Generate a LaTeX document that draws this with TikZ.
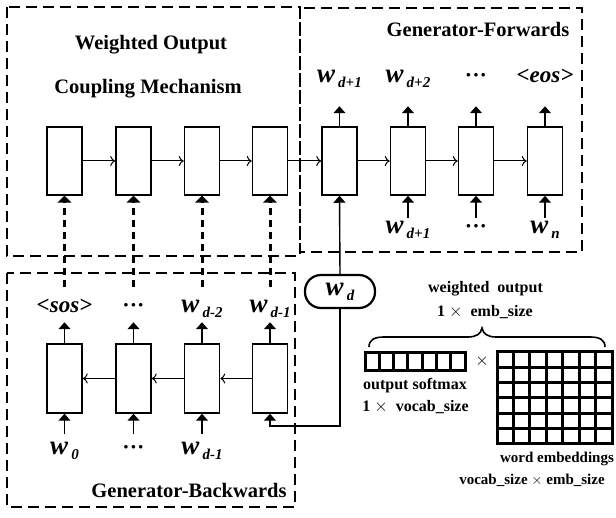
\documentclass[tikz,border=0pt]{standalone}
\usepackage{fontspec}
\setmainfont{Liberation Serif}
\usetikzlibrary{arrows.meta}
\newcommand{\wlab}[1]{{\fontsize{27}{27}\selectfont\bfseries\itshape w}\hspace{3pt}\raisebox{-5pt}{\fontsize{15}{15}\selectfont\bfseries\itshape #1}}
\newcommand{\dotlab}{{\fontsize{22}{22}\selectfont\bfseries ···}}
\newcommand{\anglab}[1]{{\fontsize{23}{23}\selectfont\bfseries\itshape <#1>}}
\begin{document}
\begin{tikzpicture}[x=1pt,y=-1pt,
  cell/.style={draw,line width=1.5pt,minimum width=35pt,minimum height=68pt,inner sep=0pt},
  dbox/.style={draw,line width=1.3pt,dash pattern=on 11pt off 6pt},
  fa/.style={-{Triangle[width=12pt,length=7pt]},line width=1.4pt},
  oa/.style={-{To[length=5pt,width=10pt]},line width=1pt},
  dsh/.style={-{Triangle[width=14pt,length=7pt]},line width=3pt,dash pattern=on 7pt off 5pt},
  ttl/.style={font=\fontsize{20.5}{20.5}\selectfont\bfseries,inner sep=0pt,anchor=base},
  sm/.style={font=\fontsize{16}{16}\selectfont\bfseries,inner sep=0pt,anchor=base},
  lab/.style={inner sep=0pt,anchor=base},
  grid/.style={line width=3pt}
]
\useasboundingbox (0,0) rectangle (616,518);
% dashed boxes
\draw[dbox] (7,7) rectangle (300,256);
\draw[dbox] (300,8) rectangle (582,252);
\draw[dbox] (7,273) rectangle (295,507);
% titles
\node[ttl] (tw) at (151,50) {Weighted Output};
\node[ttl] (tc) at (148,94) {Coupling Mechanism};
\node[ttl] (tf) at (478,37) {Generator-Forwards};
\node[ttl] (tb) at (189,497) {Generator-Backwards};
% top cells
\foreach \i/\x in {1/64.5,2/133.5,3/202,4/270,5/339.5,6/408,7/476,8/545}
  \node[cell] (t\i) at (\x,161) {};
\foreach \i/\j in {1/2,2/3,3/4,4/5,5/6,6/7,7/8}
  \draw[oa] (t\i.east) -- (t\j.west);
% bottom cells
\foreach \i/\x in {1/64.5,2/133.5,3/202,4/270}
  \node[cell,minimum height=69pt] (b\i) at (\x,378.5) {};
\foreach \i/\j in {4/3,3/2,2/1}
  \draw[oa] (b\i.west) -- (b\j.east);
% forwards outputs
\node[lab] (o5) at (339.5,83) {\wlab{d+1}};
\node[lab] (o6) at (408,83) {\wlab{d+2}};
\node[lab] (o7) at (476,83) {\dotlab};
\node[lab] (o8) at (545,83) {\anglab{eos}};
\foreach \i in {5,6,7,8}
  \draw[fa] (t\i.north) -- ++(0,-20);
% forwards inputs
\node[lab] (i6) at (408,234) {\wlab{d+1}};
\node[lab] (i7) at (476,234) {\dotlab};
\node[lab] (i8) at (545,234) {\wlab{n}};
\foreach \i in {6,7,8}
  \draw[fa] (t\i.south) ++(0,22) -- (t\i.south);
% backwards outputs
\node[lab] (bo1) at (64.5,313) {\anglab{sos}};
\node[lab] (bo2) at (133.5,313) {\dotlab};
\node[lab] (bo3) at (202,313) {\wlab{d-2}};
\node[lab] (bo4) at (270,313) {\wlab{d-1}};
\foreach \i in {1,2,3,4}
  \draw[fa] (b\i.north) -- ++(0,-21);
% backwards inputs
\node[lab] (bi1) at (64.5,455) {\wlab{0}};
\node[lab] (bi2) at (133.5,455) {\dotlab};
\node[lab] (bi3) at (202,455) {\wlab{d-1}};
\foreach \i in {1,2,3}
  \draw[fa] (b\i.south) ++(0,20) -- (b\i.south);
% dashed coupling connectors
\foreach \i/\x in {1/64.5,2/133.5,3/202,4/270}{
  \coordinate (s\i) at (\x,287);
  \draw[dsh] (s\i) -- (t\i.south);
}
% w_d node
\node[draw,line width=2.2pt,rounded corners=16pt,minimum width=70pt,minimum height=33pt,inner sep=0pt] (wd) at (340,291.5) {\wlab{d}};
\draw[fa] (wd.north) -- (t5.south);
\coordinate (turn) at (340,426);
\draw[fa] (wd.south) -- (turn) -| (b4.south);
% right side: weighted output
\node[sm] (wo) at (485.5,293) {weighted\ \ output};
\node[sm] (we) at (485,317) {1 $\times$ \ emb\_size};
\draw[line width=1.6pt] (369,347) .. controls (369,340) and (374,337) .. (384,337)
  -- (468,337) .. controls (476,337) and (481,334) .. (482,328)
  .. controls (483,334) and (488,337) .. (496,337)
  -- (590,337) .. controls (600,337) and (605,340) .. (605,347);
% softmax vector
\draw[grid] (365,353) rectangle (465,371);
\foreach \k in {1,...,6}
  \draw[grid] (365+100*\k/7,353) -- (365+100*\k/7,371);
\node[font=\fontsize{17}{17}\selectfont] (times) at (482,361) {$\times$};
% matrix
\draw[grid] (497,352) rectangle (612,444);
\foreach \k in {1,...,6}
  \draw[grid] (497+115*\k/7,352) -- (497+115*\k/7,444);
\foreach \k in {1,...,5}
  \draw[grid] (497,352+92*\k/6) -- (612,352+92*\k/6);
\node[sm] (os) at (415,390) {output softmax};
\node[sm] (ov) at (415.5,412) {1 $\times$ \ vocab\_size};
\node[sm,font=\fontsize{15}{15}\selectfont\bfseries] (wem) at (557,463) {word embeddings};
\node[sm,font=\fontsize{15}{15}\selectfont\bfseries] (vs) at (532,485) {vocab\_size $\times$ emb\_size};
\end{tikzpicture}
\end{document}
